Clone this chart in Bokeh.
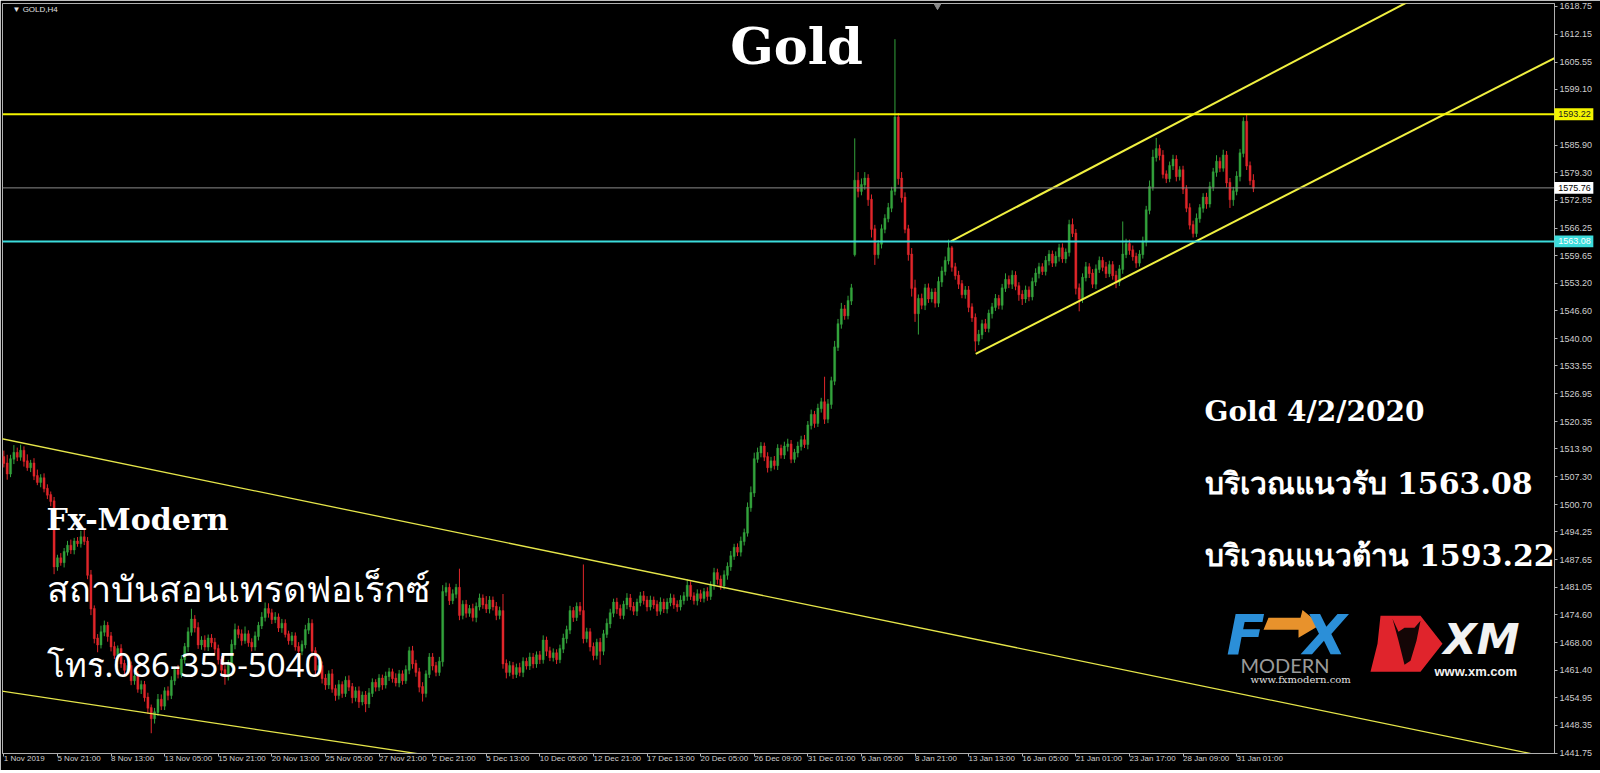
from bokeh.plotting import figure
from bokeh.models import (Range1d, FixedTicker, Span, Label, ColumnDataSource,
                          PrintfTickFormatter)
from bokeh.core.properties import value
from bokeh.embed import file_html
from bokeh.resources import INLINE

# ---------------- data ----------------
TITLE = "Gold"
SYMBOL = "GOLD,H4"
DATE_LABELS = ["1 Nov 2019", "5 Nov 21:00", "8 Nov 13:00", "13 Nov 05:00", "15 Nov 21:00",
               "20 Nov 13:00", "25 Nov 05:00", "27 Nov 21:00", "2 Dec 21:00", "5 Dec 13:00",
               "10 Dec 05:00", "12 Dec 21:00", "17 Dec 13:00", "20 Dec 05:00", "26 Dec 09:00",
               "31 Dec 01:00", "6 Jan 05:00", "8 Jan 21:00", "13 Jan 13:00", "16 Jan 05:00",
               "21 Jan 01:00", "23 Jan 17:00", "28 Jan 09:00", "31 Jan 01:00"]
BARS_PER_LABEL = 16
PRICE_TICKS = [1618.75, 1612.15, 1605.55, 1599.10, 1592.50, 1585.90, 1579.30, 1572.85,
               1566.25, 1559.65, 1553.20, 1546.60, 1540.00, 1533.55, 1526.95, 1520.35,
               1513.90, 1507.30, 1500.70, 1494.25, 1487.65, 1481.05, 1474.60, 1468.00,
               1461.40, 1454.95, 1448.35, 1441.75]
RESISTANCE = 1593.22
SUPPORT = 1563.08
BID = 1575.76
FIRST_OPEN = 1512.0
GAP_BAR = 254
GAP_OPEN = 1560.0

closes = [
    1510.5, 1508.0, 1511.5, 1513.0, 1512.0, 1513.5, 1511.0, 1509.5, 1510.5, 1507.5, 1506.0, 1507.0, 1504.5, 1503.0, 1501.5, 1486.0,
    1488.0, 1487.0, 1489.5, 1491.0, 1490.0, 1492.0, 1491.5, 1493.0, 1492.0, 1484.0, 1476.0, 1469.0, 1467.5, 1470.5, 1472.0, 1469.5,
    1467.0, 1465.0, 1466.5, 1463.0, 1461.5, 1462.5, 1459.0, 1460.0, 1457.0, 1458.0, 1455.0, 1452.5, 1450.0, 1451.5, 1454.5, 1453.0,
    1456.5, 1455.5, 1459.0, 1461.5, 1460.5, 1464.0, 1467.0, 1470.5, 1473.5, 1471.5, 1467.5, 1468.5, 1467.0, 1469.0, 1468.0, 1466.5,
    1464.0, 1461.5, 1460.0, 1463.0, 1467.5, 1471.0, 1470.0, 1468.5, 1470.0, 1468.0, 1467.0, 1469.5, 1472.0, 1474.0, 1476.0, 1475.0,
    1473.5, 1474.0, 1471.5, 1472.5, 1470.0, 1468.5, 1469.5, 1467.0, 1466.0, 1467.5, 1471.0, 1472.5, 1466.0, 1461.5, 1462.5, 1459.5,
    1458.0, 1460.5, 1457.0, 1455.5, 1458.0, 1456.0, 1459.0, 1457.5, 1455.0, 1456.5, 1454.0, 1455.5, 1453.5, 1456.0, 1458.5, 1457.5,
    1459.5, 1458.0, 1460.0, 1461.0, 1459.5, 1458.5, 1460.5, 1459.0, 1461.5, 1466.0, 1463.0, 1461.0, 1457.5, 1456.0, 1460.5, 1464.5,
    1462.5, 1461.0, 1463.5, 1480.0, 1481.0, 1478.0, 1479.5, 1481.0, 1474.5, 1477.0, 1475.0, 1476.0, 1474.0, 1476.5, 1478.5, 1477.0,
    1476.0, 1478.0, 1476.5, 1474.5, 1475.5, 1463.0, 1461.0, 1462.5, 1460.5, 1462.0, 1461.0, 1463.5, 1462.5, 1464.5, 1463.0, 1465.0,
    1464.0, 1468.5, 1466.0, 1464.5, 1465.5, 1464.0, 1466.5, 1469.0, 1471.0, 1475.5, 1474.0, 1476.5, 1475.5, 1469.0, 1470.5, 1467.0,
    1465.0, 1468.0, 1466.0, 1470.0, 1472.5, 1475.0, 1477.5, 1476.0, 1474.5, 1477.0, 1478.5, 1476.5, 1475.5, 1477.5, 1479.0, 1478.0,
    1476.5, 1478.0, 1477.0, 1475.5, 1477.5, 1476.0, 1477.5, 1478.5, 1477.0, 1476.5, 1478.0, 1479.0, 1481.5, 1479.0, 1478.0, 1479.5,
    1478.5, 1480.0, 1479.0, 1481.5, 1484.5, 1483.0, 1481.5, 1484.0, 1486.0, 1488.5, 1490.5, 1489.5, 1492.0, 1494.0, 1500.0, 1503.5,
    1511.5, 1513.0, 1514.5, 1512.0, 1509.5, 1511.0, 1510.0, 1514.0, 1512.5, 1514.5, 1515.0, 1511.5, 1513.0, 1514.5, 1516.0, 1515.0,
    1519.5, 1522.0, 1520.0, 1523.5, 1525.0, 1521.0, 1524.5, 1530.0, 1538.0, 1543.5, 1547.0, 1545.5, 1549.0, 1552.0, 1577.5, 1575.0,
    1576.5, 1578.0, 1573.0, 1566.0, 1560.0, 1562.5, 1566.0, 1568.5, 1571.0, 1575.0, 1592.5, 1578.0, 1573.5, 1566.0, 1560.0, 1552.0,
    1546.0, 1549.5, 1548.0, 1552.0, 1549.5, 1551.0, 1548.5, 1553.5, 1556.0, 1558.5, 1561.5, 1557.0, 1555.0, 1553.0, 1550.5, 1551.5,
    1547.5, 1545.0, 1539.5, 1541.0, 1543.5, 1542.5, 1546.0, 1547.5, 1549.5, 1548.0, 1552.0, 1554.0, 1553.0, 1555.0, 1552.5, 1550.5,
    1549.5, 1551.5, 1550.0, 1553.5, 1555.5, 1557.0, 1556.0, 1558.5, 1560.0, 1558.0, 1559.5, 1561.5, 1559.0, 1560.5, 1567.0, 1565.0,
    1552.0, 1549.5, 1554.5, 1557.0, 1555.5, 1553.0, 1556.5, 1558.5, 1557.0, 1555.5, 1557.5, 1555.0, 1553.5, 1556.5, 1560.0, 1562.5,
    1561.0, 1559.5, 1558.0, 1560.0, 1563.0, 1570.5, 1576.0, 1583.0, 1585.0, 1583.5, 1579.0, 1578.0, 1581.0, 1582.5, 1578.5, 1580.0,
    1575.5, 1571.0, 1567.0, 1565.0, 1568.5, 1571.0, 1573.5, 1572.0, 1576.0, 1579.5, 1582.0, 1580.5, 1583.5, 1577.0, 1573.0, 1575.0,
    1578.5, 1584.0, 1591.5, 1581.0, 1577.5, 1575.76,
]

wick_up = [
    1.5, 2.0, 1.0, 1.8, 1.2, 1.4, 1.0, 1.6, 0.8, 1.2, 1.5, 0.9, 1.1, 1.0, 0.8, 1.0,
    0.8, 1.2, 0.9, 1.1, 1.4, 0.8, 1.0, 1.5, 2.0, 1.0, 1.2, 0.8, 1.0, 1.5, 1.2, 0.9,
    1.0, 1.2, 0.8, 1.1, 0.9, 1.3, 1.0, 0.8, 1.2, 1.0, 0.9, 1.1, 0.8, 1.0, 1.3, 1.2,
    0.9, 1.1, 1.0, 0.8, 1.2, 1.0, 0.9, 1.1, 2.5, 1.0, 1.3, 1.0, 1.2, 0.9, 1.0, 1.1,
    1.0, 0.8, 1.1, 0.9, 1.2, 1.5, 1.0, 1.1, 1.8, 0.9, 1.0, 1.1, 0.9, 1.2, 1.5, 1.3,
    1.0, 1.2, 0.9, 1.1, 1.0, 0.8, 1.0, 0.9, 1.1, 1.0, 1.2, 1.3, 1.0, 0.9, 1.1, 1.0,
    1.0, 0.9, 1.2, 1.0, 1.1, 0.8, 1.0, 1.2, 0.9, 1.0, 1.1, 0.9, 1.0, 1.2, 1.0, 0.8,
    1.0, 0.9, 1.1, 1.0, 0.8, 1.2, 1.0, 0.9, 1.1, 1.0, 1.2, 0.9, 1.0, 1.1, 0.9, 1.0,
    1.0, 0.9, 1.1, 1.6, 1.2, 1.0, 1.1, 0.9, 4.5, 1.0, 1.1, 0.9, 1.2, 1.0, 1.1, 0.9,
    2.0, 1.0, 0.9, 1.1, 1.0, 4.0, 1.0, 1.1, 0.9, 1.0, 1.2, 1.0, 0.9, 1.1, 1.0, 0.9,
    1.0, 1.2, 0.9, 1.0, 1.1, 0.9, 1.0, 1.1, 1.0, 1.2, 0.9, 1.0, 1.1, 11.0, 1.0, 0.9,
    1.0, 0.9, 1.1, 1.0, 1.2, 1.0, 0.9, 1.1, 1.0, 0.9, 1.2, 1.0, 1.1, 0.9, 1.0, 1.2,
    1.0, 1.1, 0.9, 1.0, 1.2, 0.9, 1.0, 1.1, 0.9, 1.0, 1.2, 1.0, 1.5, 1.0, 0.9, 1.1,
    1.0, 0.9, 1.1, 1.0, 1.2, 1.0, 0.9, 1.1, 1.0, 1.2, 0.9, 1.0, 1.1, 1.0, 1.2, 1.5,
    1.5, 1.2, 1.0, 0.9, 1.1, 1.0, 1.2, 1.0, 0.9, 1.1, 1.3, 1.0, 0.9, 1.1, 1.0, 1.2,
    1.0, 1.2, 0.9, 1.1, 1.0, 6.0, 1.2, 1.0, 1.5, 1.2, 1.5, 1.0, 1.2, 1.0, 10.0, 2.0,
    1.5, 1.5, 1.0, 1.2, 1.0, 0.9, 1.1, 1.0, 1.2, 1.0, 18.5, 1.0, 1.5, 1.2, 1.0, 1.5,
    2.0, 1.0, 1.2, 1.0, 1.1, 0.9, 1.0, 1.2, 1.1, 1.0, 2.0, 0.5, 1.0, 1.1, 0.9, 1.0,
    1.0, 0.9, 1.0, 1.1, 1.0, 1.2, 0.9, 1.0, 1.1, 0.9, 1.0, 1.5, 1.0, 1.2, 1.0, 0.9,
    1.0, 1.1, 0.9, 1.0, 1.2, 1.0, 0.9, 1.1, 1.0, 0.9, 1.2, 1.0, 1.1, 0.9, 1.2, 1.5,
    1.0, 1.1, 1.0, 1.2, 0.9, 1.0, 1.1, 1.0, 0.9, 1.2, 1.0, 0.9, 1.1, 1.0, 7.8, 1.2,
    1.0, 1.1, 0.9, 1.0, 1.2, 1.0, 1.5, 1.8, 2.6, 1.0, 1.2, 0.9, 1.0, 1.1, 1.0, 0.9,
    1.0, 0.9, 1.1, 1.0, 1.2, 0.9, 1.0, 1.1, 1.2, 1.0, 1.5, 1.0, 1.3, 1.0, 1.1, 1.0,
    1.2, 1.0, 1.0, 1.8, 1.0, 1.5,
]

wick_dn = [
    1.0, 1.4, 0.8, 1.2, 1.0, 0.9, 1.3, 0.8, 1.1, 1.0, 0.7, 1.2, 0.9, 1.0, 1.2, 1.8,
    1.0, 0.8, 1.2, 0.9, 1.0, 1.1, 0.8, 1.0, 0.9, 1.0, 1.5, 1.2, 1.8, 0.9, 1.0, 1.3,
    1.1, 0.9, 1.2, 1.0, 1.3, 0.8, 1.1, 1.0, 0.9, 1.2, 1.0, 1.4, 3.5, 1.2, 0.9, 1.0,
    1.0, 1.2, 0.9, 1.1, 1.0, 0.8, 1.0, 1.2, 0.9, 1.1, 1.0, 1.2, 0.9, 1.0, 1.1, 1.0,
    1.2, 1.5, 2.0, 1.0, 0.9, 1.1, 1.0, 1.2, 0.8, 1.0, 1.1, 0.9, 1.0, 0.8, 1.0, 1.1,
    1.1, 0.9, 1.0, 1.2, 0.8, 1.0, 1.1, 0.9, 1.2, 1.0, 0.9, 1.0, 1.3, 1.5, 1.0, 1.2,
    1.2, 1.0, 0.9, 1.3, 1.0, 1.1, 0.9, 1.0, 1.4, 1.0, 1.5, 0.9, 2.0, 1.0, 0.9, 1.1,
    1.0, 1.2, 0.9, 1.1, 1.0, 0.9, 1.1, 1.0, 0.8, 1.0, 1.2, 1.1, 1.3, 2.0, 1.0, 0.9,
    1.1, 1.0, 0.9, 1.2, 1.0, 1.1, 0.9, 1.0, 1.2, 1.0, 1.1, 0.9, 1.0, 1.2, 0.9, 1.0,
    1.0, 1.1, 0.9, 1.2, 1.0, 1.2, 1.5, 1.0, 1.1, 0.9, 1.0, 1.2, 0.9, 1.0, 1.1, 1.0,
    1.1, 1.0, 1.2, 0.9, 1.0, 1.1, 0.9, 1.0, 1.2, 1.0, 1.1, 0.9, 1.0, 1.2, 1.0, 1.1,
    1.2, 1.0, 3.3, 1.0, 0.9, 1.1, 1.0, 1.2, 0.9, 1.0, 1.1, 0.9, 1.0, 1.2, 0.9, 1.0,
    1.1, 0.9, 1.0, 1.2, 0.9, 1.0, 1.1, 0.9, 1.0, 1.2, 0.9, 1.0, 1.1, 0.9, 1.0, 1.2,
    0.9, 1.0, 1.1, 0.9, 1.0, 1.2, 1.0, 0.9, 1.1, 1.0, 0.9, 1.0, 1.1, 1.0, 0.9, 1.0,
    1.0, 0.9, 1.1, 1.0, 1.2, 0.9, 1.0, 1.1, 0.9, 1.0, 1.2, 1.0, 0.9, 1.1, 1.0, 0.9,
    1.2, 1.0, 1.1, 0.9, 1.0, 1.2, 1.0, 1.1, 1.0, 0.9, 1.1, 1.0, 0.9, 1.0, 0.5, 1.5,
    1.0, 1.2, 1.5, 2.0, 2.5, 1.0, 1.1, 1.0, 0.9, 1.0, 1.0, 1.5, 1.2, 1.0, 1.5, 2.0,
    2.0, 5.0, 1.0, 1.2, 1.0, 0.9, 1.1, 1.0, 1.2, 1.0, 0.9, 1.1, 1.0, 1.2, 0.9, 1.0,
    1.2, 1.0, 2.5, 1.0, 1.1, 0.9, 1.0, 1.2, 0.9, 1.0, 1.1, 0.9, 1.0, 1.2, 1.0, 1.5,
    1.5, 1.0, 1.1, 0.9, 1.0, 1.2, 0.9, 1.0, 1.1, 1.0, 0.9, 1.2, 1.0, 1.1, 1.0, 0.9,
    1.5, 3.0, 1.0, 0.9, 1.1, 1.0, 1.2, 0.9, 1.0, 1.1, 0.9, 1.0, 1.5, 1.0, 1.1, 0.9,
    1.1, 1.0, 1.2, 0.9, 1.0, 1.1, 1.0, 0.9, 1.0, 1.2, 1.0, 1.1, 0.9, 1.0, 1.2, 1.0,
    1.2, 1.0, 1.1, 1.0, 0.9, 1.0, 1.1, 1.2, 0.9, 1.0, 1.1, 1.0, 0.9, 1.2, 2.0, 1.5,
    1.0, 1.2, 1.0, 1.0, 1.1, 1.0,
]

# trend lines (bar index, price)
UP_CHANNEL_TOP = [(282.7, 1563.08), (418.2, 1619.46)]
UP_CHANNEL_BOTTOM = [(290.1, 1536.40), (463.9, 1606.95)]
DOWN_CHANNEL_TOP = [(-0.6, 1516.30), (455.0, 1441.80)]
DOWN_CHANNEL_BOTTOM = [(-0.6, 1456.50), (121.5, 1441.90)]

TEXT_LEFT = ["Fx-Modern", "สถาบันสอนเทรดฟอเร็กซ์", "โทร.086-355-5040"]
TEXT_RIGHT = ["Gold 4/2/2020", "บริเวณแนวรับ 1563.08", "บริเวณแนวต้าน 1593.22"]

# ---------------- layout ----------------
W, H = 1600, 770
FL, FR, FT, FB = 2, 1554, 3, 755           # frame edges on the page
X0 = -0.4
X1 = X0 + (FR - FL) / 3.35
Y0, Y1 = 1441.7, 1619.46

def dx(px):   # page pixel -> bar coordinate (decorations only)
    return X0 + (px - FL) * (X1 - X0) / (FR - FL)

def dy(py):   # page pixel -> price coordinate (decorations only)
    return Y1 - (py - FT) * (Y1 - Y0) / (FB - FT)

PX_PER_BAR = (FR - FL) / (X1 - X0)
PX_PER_PRICE = (FB - FT) / (Y1 - Y0)

# ---------------- candles ----------------
n = min(len(closes), len(wick_up), len(wick_dn))
closes = closes[:n]
opens = [FIRST_OPEN] + closes[:-1]
opens[GAP_BAR] = GAP_OPEN
highs = [max(o, c) + u for o, c, u in zip(opens, closes, wick_up)]
lows = [min(o, c) - d for o, c, d in zip(opens, closes, wick_dn)]
GREEN, RED = "#33a23c", "#e0262a"
colors = [GREEN if c >= o else RED for o, c in zip(opens, closes)]
tops = [max(o, c) + 0.08 for o, c in zip(opens, closes)]
bots = [min(o, c) - 0.08 for o, c in zip(opens, closes)]
src = ColumnDataSource(dict(x=list(range(n)), high=highs, low=lows, top=tops, bottom=bots, color=colors))

p = figure(width=W, height=H, output_backend="svg", toolbar_location=None,
           x_range=Range1d(X0, X1), y_range=Range1d(Y0, Y1),
           y_axis_location="right",
           background_fill_color="black", border_fill_color="black",
           min_border_left=FL, min_border_right=W - FR, min_border_top=FT,
           min_border_bottom=H - FB)
p.grid.visible = False
p.outline_line_color = "#b0b0b0"
p.outline_line_width = 1

xa = p.xaxis[0]
xa.ticker = FixedTicker(ticks=[k * BARS_PER_LABEL for k in range(len(DATE_LABELS))])
xa.major_label_overrides = {k * BARS_PER_LABEL: s for k, s in enumerate(DATE_LABELS)}
xa.major_label_orientation = -0.0001
ya = p.yaxis[0]
ya.ticker = FixedTicker(ticks=PRICE_TICKS)
ya.formatter = PrintfTickFormatter(format="%.2f")
for ax in (xa, ya):
    ax.axis_label = None
    ax.axis_label_standoff = 0
    ax.axis_line_color = "#b0b0b0"
    ax.major_tick_line_color = "#b0b0b0"
    ax.major_tick_out = 3
    ax.major_tick_in = 0
    ax.minor_tick_out = 0
    ax.minor_tick_in = 0
    ax.minor_tick_line_color = None
    ax.major_label_text_color = "#cfcfcf"
    ax.major_label_text_font = "Liberation Sans"
    ax.major_label_standoff = 2
xa.major_label_text_font_size = "8px"
ya.major_label_text_font_size = "9px"

p.segment(x0="x", y0="low", x1="x", y1="high", line_color="color", line_width=1, source=src)
p.vbar(x="x", width=0.62, top="top", bottom="bottom", fill_color="color", line_color="color",
       line_width=0.4, source=src)

# horizontal levels
p.add_layout(Span(location=BID, dimension="width", line_color="#8a8a8a", line_width=1))
p.add_layout(Span(location=RESISTANCE, dimension="width", line_color="#f4f400", line_width=2))
p.add_layout(Span(location=SUPPORT, dimension="width", line_color="#3cdcdc", line_width=2))

def extend(pts, x_end):
    (x0, y0), (x1, y1) = pts
    s = (y1 - y0) / (x1 - x0)
    return [x0, x_end], [y0, y0 + s * (x_end - x0)]

for pts in (UP_CHANNEL_TOP, UP_CHANNEL_BOTTOM):
    xs, ys = extend(pts, 480)
    p.line(xs, ys, line_color="#f0f040", line_width=2)
for pts in (DOWN_CHANNEL_TOP, DOWN_CHANNEL_BOTTOM):
    xs, ys = extend(pts, 480)
    p.line(xs, ys, line_color="#e6e64a", line_width=1.3)

# price tags on the axis (overlay level so they can sit over the axis labels)
tag_vals = [RESISTANCE, BID, SUPPORT]
tag_left = X1 - 0.05
tags = ColumnDataSource(dict(
    left=[tag_left] * 3,
    right=[tag_left + 39.0 / PX_PER_BAR] * 3,
    bottom=[v - 6.0 / PX_PER_PRICE for v in tag_vals],
    top=[v + 6.0 / PX_PER_PRICE for v in tag_vals],
    y=tag_vals,
    text=["%.2f" % v for v in tag_vals],
    fill=["#f4f400", "#ffffff", "#3cdcdc"],
    tc=["#202020", "#000000", "#ffffff"],
))
p.quad(left="left", right="right", bottom="bottom", top="top", fill_color="fill",
       line_color=None, source=tags, level="overlay")
p.text(x="left", y="y", text="text", text_color="tc", x_offset=4, text_baseline="middle",
       text_align="left", text_font=value("Liberation Sans"), text_font_size="9px",
       source=tags, level="overlay")

# ---------------- texts ----------------
p.add_layout(Label(x=dx(12), y=dy(9), text="▼ " + SYMBOL, text_font="Liberation Sans",
                   text_font_size="8px", text_color="#e0e0e0", text_baseline="middle"))
p.scatter([dx(937)], [Y1 - 0.5], marker="inverted_triangle", size=7, color="#8a8a8a")

p.add_layout(Label(x=dx(796), y=dy(46), text=TITLE, text_font="DejaVu Serif",
                   text_font_style="bold", text_font_size="51px", text_color="white",
                   text_align="center", text_baseline="middle"))

serif = "DejaVu Serif"
thai = "Noto Sans"
p.add_layout(Label(x=dx(46), y=dy(520), text=TEXT_LEFT[0], text_font=serif, text_font_style="bold",
                   text_font_size="30px", text_color="white", text_baseline="middle"))
p.add_layout(Label(x=dx(46), y=dy(590), text=TEXT_LEFT[1], text_font=thai,
                   text_font_size="36px", text_color="white", text_baseline="middle"))
p.add_layout(Label(x=dx(46), y=dy(666), text=TEXT_LEFT[2], text_font=thai,
                   text_font_size="33px", text_color="white", text_baseline="middle"))
p.add_layout(Label(x=dx(1204), y=dy(412), text=TEXT_RIGHT[0], text_font=serif, text_font_style="bold",
                   text_font_size="28px", text_color="white", text_baseline="middle"))
p.add_layout(Label(x=dx(1204), y=dy(484), text=TEXT_RIGHT[1], text_font=serif, text_font_style="bold",
                   text_font_size="30px", text_color="white", text_baseline="middle"))
p.add_layout(Label(x=dx(1204), y=dy(556), text=TEXT_RIGHT[2], text_font=serif, text_font_style="bold",
                   text_font_size="30px", text_color="white", text_baseline="middle"))

# FX Modern logo (approximation)
p.add_layout(Label(x=dx(1226), y=dy(636), text="F", text_font="DejaVu Sans", text_font_style="bold italic",
                   text_font_size="56px", text_color="#2b8fd8", text_baseline="middle"))
p.add_layout(Label(x=dx(1303), y=dy(636), text="X", text_font="DejaVu Sans", text_font_style="bold italic",
                   text_font_size="56px", text_color="#2b8fd8", text_baseline="middle"))
ax_px = [1268, 1300, 1302, 1320, 1298, 1298, 1263]
ay_px = [619, 619, 611, 626, 639, 631, 631]
p.patch([dx(v) for v in ax_px], [dy(v) for v in ay_px], fill_color="#e8922c", line_color=None)
p.add_layout(Label(x=dx(1240), y=dy(666), text="MODERN", text_font="Lato",
                   text_font_size="20px", text_color="#9a9a9a", text_baseline="middle"))
p.add_layout(Label(x=dx(1250), y=dy(681), text="www.fxmodern.com", text_font="DejaVu Serif",
                   text_font_size="10px", text_color="#e0e0e0", text_baseline="middle"))

# XM logo (approximation)
rx_px = [1380, 1420, 1442, 1420, 1370, 1377]
ry_px = [617, 617, 645, 673, 673, 645]
p.patch([dx(v) for v in rx_px], [dy(v) for v in ry_px], fill_color="#e0242c", line_color=None)
bx_px = [1392, 1398, 1404, 1414, 1420, 1416, 1410, 1404, 1398]
by_px = [620, 633, 629, 629, 622, 642, 662, 666, 642]
p.patch([dx(v) for v in bx_px], [dy(v) for v in by_px], fill_color="#140606", line_color=None)
p.add_layout(Label(x=dx(1443), y=dy(640), text="XM", text_font="DejaVu Sans", text_font_style="bold italic",
                   text_font_size="43px", text_color="#f2f2f2", text_baseline="middle"))
p.add_layout(Label(x=dx(1434), y=dy(673), text="www.xm.com", text_font="Liberation Sans",
                   text_font_style="bold", text_font_size="13px", text_color="#f2f2f2",
                   text_baseline="middle"))

open("out.html", "w").write(file_html(p, INLINE))
